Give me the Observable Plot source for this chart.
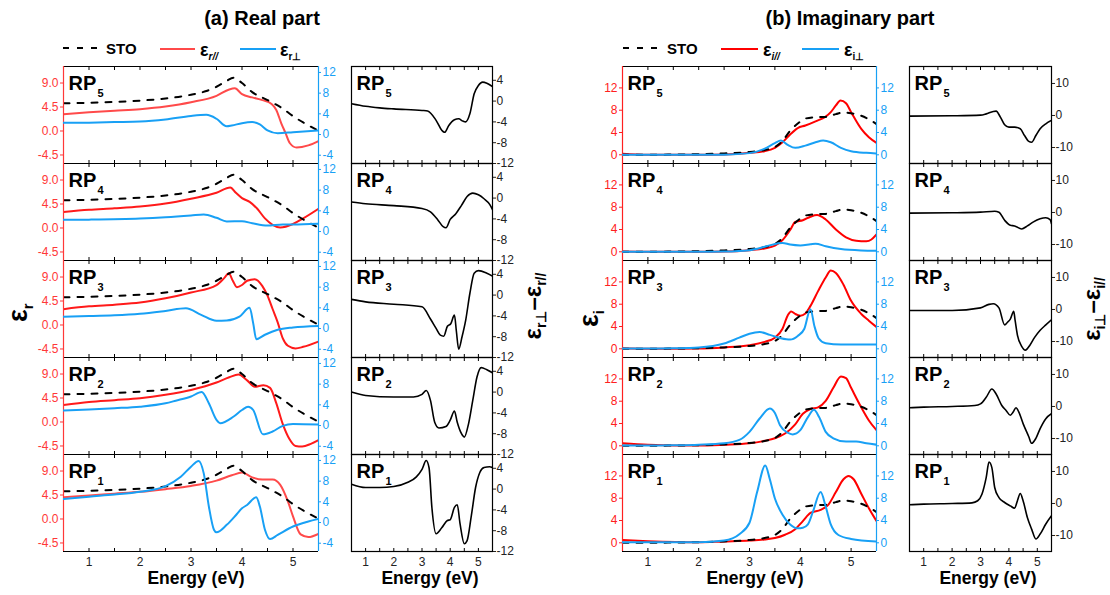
<!DOCTYPE html>
<html><head><meta charset="utf-8">
<script src="https://cdn.jsdelivr.net/npm/d3@7"></script>
<script src="https://cdn.jsdelivr.net/npm/@observablehq/plot@0.6"></script>
<style>
body{margin:0;background:#fff;}
#root{position:relative;width:1110px;height:595px;overflow:hidden;font-family:"Liberation Sans",Arial,sans-serif;}
</style></head><body><div id="root"></div>
<script>
// ---------------- DATA (Energy eV, value) ----------------
const X_MAJOR = [1, 2, 3, 4, 5];
const X_MINOR = [1, 1.5, 2, 2.5, 3, 3.5, 4, 4.5, 5];
const RP_NAMES = ["5", "4", "3", "2", "1"];
const TICKS_A_RED = [-4.5, 0, 4.5, 9];
const TICKS_A_BLUE = [-4, 0, 4, 8, 12];
const TICKS_A_DIFF = [-12, -8, -4, 0, 4];
const TICKS_B_MAIN = [0, 4, 8, 12];
const TICKS_B_DIFF = [-10, 0, 10];

const stoReal = [[0.5,5.2],[1.0,5.3],[1.5,5.45],[2.0,5.7],[2.5,6.1],[3.0,6.8],[3.3,7.5],[3.5,8.3],[3.7,9.4],[3.83,10.0],[4.0,9.0],[4.2,7.3],[4.5,5.8],[4.8,4.2],[5.0,2.8],[5.2,1.6],[5.45,0.3]];
const stoImag = [[0.5,0],[1.0,0],[1.5,0.05],[2.0,0.1],[2.5,0.25],[3.0,0.5],[3.3,0.85],[3.5,1.4],[3.65,2.5],[3.8,4.3],[3.95,5.6],[4.1,6.5],[4.3,6.75],[4.5,6.8],[4.7,7.3],[4.85,7.6],[5.0,7.45],[5.2,7.0],[5.4,6.1],[5.5,5.5]];

const realPar5 = [[0.5,3.16],[1.0,3.5],[1.5,3.8],[2.0,4.1],[2.5,4.6],[3.0,5.4],[3.5,6.6],[3.75,7.8],[3.86,8.0],[4.0,6.9],[4.2,6.3],[4.4,5.8],[4.58,5.06],[4.67,4.0],[4.77,1.45],[4.85,-0.3],[4.94,-2.3],[5.07,-3.1],[5.3,-2.7],[5.5,-1.9]];
const realPar4 = [[0.5,3.0],[1.0,3.4],[1.5,3.7],[2.0,4.05],[2.5,4.6],[3.0,5.5],[3.5,6.6],[3.77,7.6],[3.88,6.6],[4.0,5.6],[4.15,4.9],[4.3,3.6],[4.45,1.8],[4.6,0.6],[4.75,0.1],[5.0,0.75],[5.2,1.8],[5.5,3.6]];
const realPar3 = [[0.5,2.97],[1.0,3.5],[1.5,3.8],[2.0,4.2],[2.5,5.0],[3.0,6.1],[3.5,7.5],[3.65,8.8],[3.74,9.7],[3.82,8.3],[3.9,7.1],[4.0,7.5],[4.1,8.3],[4.25,8.6],[4.4,7.3],[4.5,5.5],[4.6,3.0],[4.7,0.5],[4.8,-2.5],[4.9,-3.9],[5.05,-4.4],[5.2,-4.1],[5.5,-3.1]];
const realPar2 = [[0.5,3.2],[1.0,3.75],[1.5,4.1],[2.0,4.45],[2.5,5.1],[3.0,6.0],[3.5,7.4],[3.75,8.4],[3.93,8.9],[4.1,7.8],[4.25,6.6],[4.42,6.9],[4.55,6.4],[4.67,3.6],[4.8,-0.4],[4.93,-3.2],[5.05,-4.5],[5.18,-4.6],[5.35,-4.1],[5.5,-3.4]];
const realPar1 = [[0.5,4.1],[1.0,4.4],[1.5,4.75],[2.0,5.1],[2.5,5.6],[3.0,6.2],[3.5,7.2],[3.8,8.2],[4.0,8.7],[4.2,7.8],[4.4,7.4],[4.6,7.4],[4.75,6.4],[4.9,3.3],[5.0,0.5],[5.15,-2.9],[5.3,-3.4],[5.5,-2.8]];

const realPerp5 = [[0.5,2.27],[1.0,2.3],[1.5,2.4],[2.0,2.5],[2.5,2.9],[3.0,3.6],[3.3,3.8],[3.5,3.05],[3.7,1.6],[3.8,1.75],[4.0,2.2],[4.2,2.4],[4.35,1.95],[4.5,0.8],[4.7,0.26],[5.0,0.45],[5.5,0.8]];
const realPerp4 = [[0.5,2.27],[1.0,2.3],[2.0,2.5],[2.5,2.75],[3.0,3.1],[3.25,3.3],[3.5,2.65],[3.7,1.95],[4.0,2.0],[4.2,1.6],[4.5,1.15],[4.8,1.35],[5.0,1.35],[5.5,1.5]];
const realPerp3 = [[0.5,2.3],[1.0,2.4],[1.5,2.55],[2.0,2.85],[2.5,3.4],[2.9,3.9],[3.2,2.65],[3.5,1.5],[3.7,1.55],[3.95,2.3],[4.15,4.0],[4.22,1.0],[4.28,-2.05],[4.45,-1.2],[4.7,-0.25],[5.0,0.2],[5.5,0.5]];
const realPerp2 = [[0.5,2.9],[1.0,3.1],[1.5,3.35],[2.0,3.65],[2.5,4.3],[2.7,4.8],[3.0,5.6],[3.21,6.5],[3.35,4.3],[3.5,1.1],[3.57,0.45],[3.83,1.7],[4.0,3.0],[4.12,3.65],[4.22,3.0],[4.41,-1.7],[4.6,-1.15],[4.8,-0.06],[5.0,0.3],[5.5,0.2]];
const realPerp1 = [[0.5,4.55],[1.0,5.0],[1.5,5.4],[2.0,5.95],[2.5,7.05],[2.8,8.85],[3.0,10.8],[3.15,11.9],[3.25,9.5],[3.35,3.1],[3.45,-1.4],[3.5,-1.9],[3.7,-0.45],[3.9,1.65],[4.0,2.75],[4.1,3.4],[4.28,4.9],[4.35,3.1],[4.45,-1.4],[4.55,-3.2],[4.7,-2.4],[5.0,-0.77],[5.3,0.2],[5.5,0.7]];

const realDiff5 = [[0.5,-0.5],[1.0,-1.0],[1.5,-1.3],[2.0,-1.5],[3.0,-1.8],[3.2,-1.9],[3.5,-3.7],[3.7,-5.6],[3.8,-6.0],[3.95,-4.7],[4.15,-3.6],[4.3,-3.4],[4.45,-3.85],[4.55,-4.0],[4.7,-2.4],[4.85,1.4],[5.0,3.0],[5.15,3.65],[5.3,3.45],[5.5,2.8]];
const realDiff4 = [[0.5,-0.75],[1.0,-1.1],[2.0,-1.45],[3.0,-2.0],[3.3,-2.65],[3.55,-4.1],[3.75,-5.5],[3.85,-5.7],[4.0,-4.1],[4.2,-3.0],[4.4,-1.4],[4.6,0.3],[4.8,0.95],[5.0,0.63],[5.2,-0.13],[5.4,-1.2],[5.5,-2.2]];
const realDiff3 = [[0.5,-0.83],[1.0,-1.3],[2.0,-1.75],[3.0,-2.25],[3.3,-4.6],[3.5,-6.4],[3.65,-7.7],[3.77,-7.9],[3.9,-6.0],[4.02,-5.5],[4.15,-3.85],[4.22,-7.0],[4.3,-10.4],[4.42,-8.0],[4.55,-4.8],[4.7,0.4],[4.85,4.2],[5.0,4.7],[5.3,4.2],[5.5,3.65]];
const realDiff2 = [[0.5,0],[1.0,-0.65],[2.0,-0.95],[2.7,-0.95],[3.0,-0.45],[3.15,0.3],[3.3,-1.6],[3.45,-5.8],[3.6,-6.9],[3.85,-6.6],[4.0,-5.4],[4.15,-3.65],[4.25,-5.8],[4.4,-8.0],[4.5,-8.65],[4.65,-6.1],[4.8,-1.6],[4.95,2.9],[5.1,4.7],[5.3,4.3],[5.5,3.7]];
const realDiff1 = [[0.5,0.95],[1.0,0.3],[1.5,0.3],[2.0,0.5],[2.5,1.3],[2.8,2.35],[3.0,3.8],[3.15,5.5],[3.25,4.1],[3.35,-3.5],[3.5,-8.6],[3.7,-7.45],[3.9,-6.05],[4.0,-5.9],[4.15,-3.5],[4.25,-3.0],[4.35,-6.7],[4.5,-10.5],[4.6,-9.9],[4.75,-5.1],[4.9,0.3],[5.05,3.2],[5.2,4.15],[5.4,4.3],[5.5,4.15]];

const imagPar5 = [[0.5,0.2],[1.0,0.02],[2.0,0],[2.5,0.05],[3.0,0.35],[3.3,0.65],[3.5,1.25],[3.65,2.25],[3.8,3.65],[3.95,4.8],[4.1,5.25],[4.3,6.0],[4.5,6.85],[4.6,7.65],[4.7,8.85],[4.79,9.75],[4.9,9.25],[5.0,7.65],[5.2,4.65],[5.35,3.15],[5.5,2.15]];
const imagPar4 = [[0.5,0.05],[1.0,0],[2.0,0],[2.5,0.05],[3.0,0.3],[3.3,0.6],[3.5,1.1],[3.65,2.1],[3.8,3.9],[3.9,5.35],[4.05,5.65],[4.2,6.3],[4.33,6.6],[4.5,5.8],[4.7,4.0],[4.9,2.6],[5.1,2.0],[5.3,1.9],[5.4,2.2],[5.5,3.1]];
const imagPar3 = [[0.5,0.1],[1.0,0.02],[2.0,0.05],[2.5,0.25],[3.0,0.65],[3.3,1.25],[3.5,2.0],[3.65,3.6],[3.75,5.95],[3.82,6.7],[3.9,6.25],[4.0,5.95],[4.1,6.35],[4.2,7.7],[4.35,10.35],[4.5,12.8],[4.6,14.05],[4.7,13.6],[4.85,11.5],[5.0,8.6],[5.2,6.25],[5.35,5.05],[5.5,3.9]];
const imagPar2 = [[0.5,0.45],[1.0,0.2],[2.0,0.05],[2.5,0.2],[3.0,0.45],[3.3,0.9],[3.5,1.35],[3.7,2.2],[3.9,3.85],[4.05,5.75],[4.2,6.6],[4.35,6.9],[4.5,8.05],[4.65,10.4],[4.8,12.45],[4.9,12.15],[5.0,10.4],[5.2,6.9],[5.35,4.55],[5.5,2.8]];
const imagPar1 = [[0.5,0.5],[1.0,0.3],[2.0,0.1],[2.5,0.25],[3.0,0.4],[3.3,0.6],[3.5,0.85],[3.7,1.45],[3.9,2.45],[4.05,3.9],[4.2,5.35],[4.4,5.9],[4.55,6.8],[4.7,9.1],[4.85,11.4],[4.95,12.0],[5.05,11.4],[5.2,8.8],[5.35,6.2],[5.5,3.9]];

const imagPerp5 = [[0.5,0],[1.0,0],[2.0,0],[2.5,0.02],[3.0,0.3],[3.3,1.1],[3.5,2.1],[3.62,2.55],[3.75,1.8],[3.9,1.25],[4.1,1.65],[4.3,2.25],[4.45,2.55],[4.6,2.25],[4.8,1.25],[5.0,0.65],[5.3,0.35],[5.5,0.25]];
const imagPerp4 = [[0.5,0],[1.0,0],[2.0,0],[2.5,0.05],[3.0,0.3],[3.3,0.9],[3.55,1.5],[3.65,1.6],[3.8,1.3],[4.0,1.15],[4.2,1.35],[4.3,1.45],[4.5,1.0],[4.8,0.5],[5.2,0.25],[5.5,0.2]];
const imagPerp3 = [[0.5,0.05],[1.0,0.05],[1.5,0.1],[2.0,0.25],[2.5,0.95],[2.8,2.0],[3.0,2.7],[3.2,3.0],[3.4,2.5],[3.6,1.95],[3.8,1.65],[3.95,2.3],[4.08,3.6],[4.2,7.1],[4.28,4.0],[4.36,1.9],[4.5,1.0],[4.8,0.75],[5.5,0.75]];
const imagPerp2 = [[0.5,0.05],[1.0,0.05],[1.5,0.1],[2.0,0.2],[2.5,0.45],[2.8,1.05],[3.0,2.5],[3.2,4.9],[3.4,6.7],[3.5,5.9],[3.6,3.7],[3.75,2.35],[3.85,2.05],[4.0,2.8],[4.15,5.15],[4.27,6.45],[4.37,5.15],[4.5,2.5],[4.65,1.35],[4.9,0.75],[5.1,0.75],[5.3,0.45],[5.5,0.2]];
const imagPerp1 = [[0.5,0.1],[1.0,0.1],[2.0,0.1],[2.5,0.4],[2.8,1.55],[3.0,3.6],[3.15,9.1],[3.31,13.85],[3.4,11.4],[3.5,7.95],[3.65,5.05],[3.8,3.3],[3.95,2.6],[4.05,2.7],[4.15,3.3],[4.25,5.6],[4.4,9.1],[4.5,6.5],[4.6,3.3],[4.75,1.4],[5.0,0.7],[5.5,0.25]];

const imagDiff5 = [[0.5,-0.2],[2.0,-0.1],[3.0,0.1],[3.2,0.5],[3.45,1.25],[3.55,1.35],[3.7,-0.5],[3.85,-2.9],[4.0,-3.65],[4.2,-3.65],[4.4,-4.15],[4.55,-6.25],[4.7,-8.1],[4.8,-8.35],[4.95,-6.25],[5.1,-4.15],[5.3,-2.6],[5.5,-1.55]];
const imagDiff4 = [[0.5,-0.2],[2.0,-0.1],[3.0,0.1],[3.5,0.4],[3.65,0.1],[3.85,-2.45],[4.05,-4.0],[4.2,-4.2],[4.45,-5.15],[4.65,-4.2],[4.85,-3.0],[5.1,-1.95],[5.3,-1.65],[5.45,-2.25],[5.5,-3.5]];
const imagDiff3 = [[0.5,-0.3],[2.0,-0.3],[3.0,0.5],[3.3,1.6],[3.45,1.8],[3.65,0.5],[3.85,-4.8],[3.95,-4.0],[4.05,-3.0],[4.17,-0.6],[4.22,-3.5],[4.3,-8.0],[4.45,-11.5],[4.58,-12.7],[4.75,-11.0],[4.9,-8.8],[5.1,-6.5],[5.3,-4.8],[5.5,-3.2]];
const imagDiff2 = [[0.5,-0.4],[1.0,-0.2],[2.0,0],[2.8,0.3],[3.0,0.8],[3.2,2.85],[3.4,5.45],[3.55,3.9],[3.75,0.3],[3.9,-1.25],[4.05,-2.75],[4.15,-1.75],[4.25,-0.4],[4.35,-1.75],[4.5,-5.35],[4.7,-9.45],[4.8,-11.5],[4.95,-9.95],[5.1,-6.9],[5.3,-3.8],[5.5,-2.25]];
const imagDiff1 = [[0.5,-0.4],[1.0,-0.2],[2.0,0],[2.7,0.2],[2.9,0.85],[3.05,2.9],[3.2,8.1],[3.3,12.95],[3.4,11.2],[3.5,5.0],[3.65,1.85],[3.85,0.3],[4.05,-0.75],[4.2,-1.45],[4.3,0.85],[4.4,3.1],[4.5,0.85],[4.65,-4.35],[4.8,-8.0],[4.95,-11.1],[5.1,-9.55],[5.3,-6.4],[5.5,-3.85]];

// ---------------- STYLE / LAYOUT ----------------
const FONT = '"Liberation Sans", Arial, sans-serif';
const RED_A = "#ff4a4a", RED_A_STRONG = "#ff1a1a", RED_B = "#ff0000", RED_AX = "#ff3838";
const BLUE = "#18a0f5";
const X_DOMAIN = [0.5, 5.5];
const ROW_TOPS = [66, 163, 260, 357, 454];
const ROW_H = 97;
const Y_A_RED = [-6.1, 12.1], Y_A_BLUE = [-5.6, 13.15], Y_A_DIFF = [-12, 6.65];
const Y_B_MAIN = [-1.56, 15.84], Y_B_DIFF = [-15, 15.3];
const MT = 6, MB = 6, MB_BOTTOM = 40;
const DASH = "6,8";

const root = document.getElementById("root");
const STYLE = {overflow: "visible", background: "transparent", fontFamily: FONT, fontSize: "12px", color: "black", maxWidth: "none"};
const rows = pairs => pairs.map(([E, v]) => ({E, v}));

function mount(svg, left, top) {
  svg.style.position = "absolute";
  svg.style.left = left + "px";
  svg.style.top = top + "px";
  root.appendChild(svg);
}
function xTickMarks() {
  return [
    Plot.axisX({anchor: "bottom", ticks: X_MINOR, tickSize: -3, tickFormat: () => "", label: null}),
    Plot.axisX({anchor: "top", ticks: X_MINOR, tickSize: -3, tickFormat: () => "", label: null})
  ];
}
function xLabels() {
  return Plot.axisX({anchor: "bottom", ticks: X_MAJOR, tickSize: 0, tickPadding: 6, tickFormat: d => String(d), fontSize: 12, color: "#222", label: null});
}
function rpLabel(n) {
  return [
    Plot.text(["RP"], {text: d => d, frameAnchor: "top-left", textAnchor: "start", lineAnchor: "top", dx: 5, dy: 9, fontSize: 20, fontWeight: "bold", fill: "black"}),
    Plot.text([n], {text: d => d, frameAnchor: "top-left", textAnchor: "start", lineAnchor: "top", dx: 34, dy: 23, fontSize: 11, fontWeight: "bold", fill: "black"})
  ];
}
function line(data, stroke, width, dash) {
  return Plot.line(rows(data), {x: "E", y: "v", stroke, strokeWidth: width, strokeDasharray: dash, curve: "monotone-x", clip: true});
}

function bigPanel({left, top, w, bottom, n, sto, par, perp, parColor, yL, yLTicks, yLFmt, yR, yRTicks, redAx}) {
  const ML = 45, MR = 45, mb = bottom ? MB_BOTTOM : MB;
  const common = {width: w + ML + MR, height: ROW_H + MT + mb, marginLeft: ML, marginRight: MR, marginTop: MT, marginBottom: mb, style: STYLE};
  const red = Plot.plot({...common,
    x: {domain: X_DOMAIN, label: null},
    y: {domain: yL, label: null},
    marks: [
      line(par, parColor, 2),
      line(sto, "black", 2, DASH),
      Plot.axisY({anchor: "left", ticks: yLTicks, tickFormat: yLFmt, tickSize: 3, tickPadding: 2, color: redAx, fontSize: 12, label: null}),
      ...xTickMarks(), ...(bottom ? [xLabels()] : []),
      Plot.ruleY([yL[0], yL[1]], {stroke: "black", strokeWidth: 1.2}),
      Plot.ruleX([X_DOMAIN[0]], {stroke: redAx, strokeWidth: 1.2}),
      ...rpLabel(n)
    ]});
  mount(red, left - ML, top - MT);
  const blue = Plot.plot({...common,
    x: {domain: X_DOMAIN, label: null, axis: null},
    y: {domain: yR, label: null},
    marks: [
      line(perp, BLUE, 2),
      Plot.axisY({anchor: "right", ticks: yRTicks, tickFormat: d => String(d), tickSize: 2, tickPadding: 2, color: BLUE, fontSize: 12, label: null}),
      Plot.ruleX([X_DOMAIN[1]], {stroke: BLUE, strokeWidth: 1.2})
    ]});
  mount(blue, left - ML, top - MT);
}

function smallPanel({left, top, w, bottom, n, diff, yD, yTicks}) {
  const ML = 6, MR = 40, mb = bottom ? MB_BOTTOM : MB;
  const p = Plot.plot({width: w + ML + MR, height: ROW_H + MT + mb, marginLeft: ML, marginRight: MR, marginTop: MT, marginBottom: mb, style: STYLE,
    x: {domain: X_DOMAIN, label: null},
    y: {domain: yD, label: null},
    marks: [
      line(diff, "black", 1.6),
      Plot.axisY({anchor: "right", ticks: yTicks, tickFormat: d => String(d), tickSize: 3, tickPadding: 1, color: "#222", fontSize: 12, label: null}),
      ...xTickMarks(), ...(bottom ? [xLabels()] : []),
      Plot.frame({stroke: "black", strokeWidth: 1.2}),
      ...rpLabel(n)
    ]});
  mount(p, left - ML, top - MT);
}

const realPar = [realPar5, realPar4, realPar3, realPar2, realPar1];
const realPerp = [realPerp5, realPerp4, realPerp3, realPerp2, realPerp1];
const realDiff = [realDiff5, realDiff4, realDiff3, realDiff2, realDiff1];
const imagPar = [imagPar5, imagPar4, imagPar3, imagPar2, imagPar1];
const imagPerp = [imagPerp5, imagPerp4, imagPerp3, imagPerp2, imagPerp1];
const imagDiff = [imagDiff5, imagDiff4, imagDiff3, imagDiff2, imagDiff1];
const realParColors = [RED_A, RED_A_STRONG, RED_A_STRONG, RED_A_STRONG, RED_A];

RP_NAMES.forEach((n, i) => {
  const top = ROW_TOPS[i], bottom = i === RP_NAMES.length - 1;
  bigPanel({left: 63, top, w: 255, bottom, n, sto: stoReal, par: realPar[i], perp: realPerp[i], parColor: realParColors[i],
    yL: Y_A_RED, yLTicks: TICKS_A_RED, yLFmt: d => d.toFixed(1), yR: Y_A_BLUE, yRTicks: TICKS_A_BLUE, redAx: RED_AX});
  smallPanel({left: 351, top, w: 141, bottom, n, diff: realDiff[i], yD: Y_A_DIFF, yTicks: TICKS_A_DIFF});
  bigPanel({left: 622, top, w: 254, bottom, n, sto: stoImag, par: imagPar[i], perp: imagPerp[i], parColor: RED_B,
    yL: Y_B_MAIN, yLTicks: TICKS_B_MAIN, yLFmt: d => String(d), yR: Y_B_MAIN, yRTicks: TICKS_B_MAIN, redAx: "#ff2020"});
  smallPanel({left: 909, top, w: 142, bottom, n, diff: imagDiff[i], yD: Y_B_DIFF, yTicks: TICKS_B_DIFF});
});

// ---------------- titles, legends, axis titles ----------------
const ov = document.createElementNS("http://www.w3.org/2000/svg", "svg");
ov.setAttribute("width", 1110); ov.setAttribute("height", 595);
ov.setAttribute("font-family", FONT);
ov.style.position = "absolute"; ov.style.left = "0px"; ov.style.top = "0px"; ov.style.overflow = "visible";
ov.innerHTML = `
<text x="262" y="25" text-anchor="middle" font-size="20" font-weight="bold">(a) Real part</text>
<text x="850" y="25" text-anchor="middle" font-size="20" font-weight="bold">(b) Imaginary part</text>

<line x1="63" x2="97" y1="48" y2="48" stroke="black" stroke-width="2" stroke-dasharray="${DASH}"/>
<text x="106" y="54" font-size="15" font-weight="bold">STO</text>
<line x1="160" x2="195" y1="49" y2="49" stroke="${RED_A}" stroke-width="2"/>
<text x="200" y="56" font-size="18" font-weight="bold">ε<tspan font-size="10" font-style="italic" dy="4">r//</tspan></text>
<line x1="240" x2="276" y1="49" y2="49" stroke="${BLUE}" stroke-width="2"/>
<text x="280" y="56" font-size="18" font-weight="bold">ε<tspan font-size="10" dy="4">r⊥</tspan></text>

<line x1="623" x2="657" y1="48" y2="48" stroke="black" stroke-width="2" stroke-dasharray="${DASH}"/>
<text x="667" y="54" font-size="15" font-weight="bold">STO</text>
<line x1="721" x2="758" y1="49" y2="49" stroke="${RED_B}" stroke-width="2"/>
<text x="763" y="56" font-size="18" font-weight="bold">ε<tspan font-size="10" font-style="italic" dy="4">i//</tspan></text>
<line x1="802" x2="839" y1="49" y2="49" stroke="${BLUE}" stroke-width="2"/>
<text x="844" y="56" font-size="18" font-weight="bold">ε<tspan font-size="10" dy="4">i⊥</tspan></text>

<text transform="translate(27,322) rotate(-90)" font-size="27" font-weight="bold">ε<tspan font-size="15" dy="6">r</tspan></text>
<text transform="translate(598,327) rotate(-90)" font-size="27" font-weight="bold">ε<tspan font-size="15" dy="6">i</tspan></text>
<text transform="translate(541,306) rotate(-90)" text-anchor="middle" font-size="24" font-weight="bold">ε<tspan font-size="14" dy="5">r⊥</tspan><tspan dy="-5">–ε</tspan><tspan font-size="14" dy="5">r//</tspan></text>
<text transform="translate(1100,309) rotate(-90)" text-anchor="middle" font-size="24" font-weight="bold">ε<tspan font-size="14" dy="5">i⊥</tspan><tspan dy="-5">–ε</tspan><tspan font-size="14" dy="5">i//</tspan></text>

<text x="196" y="584" text-anchor="middle" font-size="17.5" font-weight="bold">Energy (eV)</text>
<text x="430" y="584" text-anchor="middle" font-size="17.5" font-weight="bold">Energy (eV)</text>
<text x="755" y="584" text-anchor="middle" font-size="17.5" font-weight="bold">Energy (eV)</text>
<text x="988" y="584" text-anchor="middle" font-size="17.5" font-weight="bold">Energy (eV)</text>
`;
root.appendChild(ov);
</script>
</body></html>
